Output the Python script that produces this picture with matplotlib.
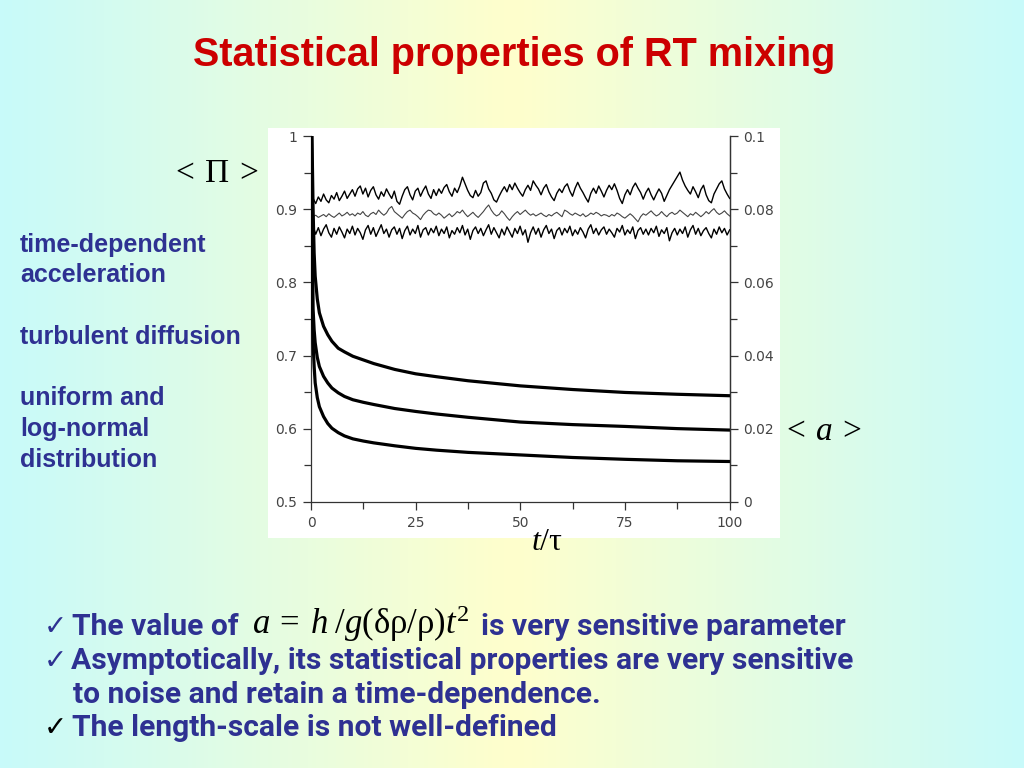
import numpy as np
import matplotlib
matplotlib.use("Agg")
import matplotlib.pyplot as plt
from matplotlib.patches import Rectangle
from matplotlib.colors import LinearSegmentedColormap

plt.rcParams['mathtext.fontset'] = 'custom'
plt.rcParams['mathtext.rm'] = 'Liberation Serif'
plt.rcParams['mathtext.it'] = 'Liberation Serif:italic'

# ---- data ----
# <Pi> traces (left axis), sampled evenly from t=0.5 to t=100
pi_top = [0.915,0.908,0.917,0.911,0.921,0.913,0.909,0.919,0.914,0.923,0.912,0.918,0.925,0.915,0.921,0.927,
          0.918,0.928,0.932,0.921,0.929,0.917,0.926,0.931,0.920,0.914,0.924,0.918,0.928,0.921,0.915,0.925,
          0.911,0.907,0.918,0.927,0.931,0.920,0.913,0.925,0.929,0.918,0.926,0.932,0.921,0.915,0.927,0.919,
          0.928,0.922,0.930,0.934,0.924,0.918,0.929,0.923,0.932,0.944,0.935,0.926,0.919,0.916,0.926,0.918,
          0.923,0.936,0.939,0.928,0.922,0.913,0.910,0.918,0.925,0.931,0.924,0.934,0.927,0.936,0.929,0.923,
          0.918,0.927,0.933,0.926,0.939,0.933,0.928,0.920,0.929,0.934,0.924,0.917,0.912,0.922,0.928,0.923,
          0.931,0.935,0.925,0.918,0.929,0.937,0.929,0.923,0.916,0.910,0.922,0.929,0.922,0.932,0.925,0.917,
          0.926,0.933,0.927,0.935,0.926,0.915,0.908,0.920,0.927,0.920,0.930,0.936,0.929,0.923,0.914,0.923,
          0.929,0.920,0.913,0.921,0.928,0.922,0.911,0.919,0.927,0.933,0.939,0.945,0.951,0.940,0.932,0.926,
          0.921,0.931,0.924,0.916,0.927,0.933,0.920,0.912,0.909,0.921,0.928,0.935,0.939,0.928,0.921,0.915]
pi_mid = [0.890,0.892,0.889,0.891,0.893,0.890,0.894,0.891,0.889,0.892,0.895,0.891,0.893,0.896,0.892,0.894,
          0.891,0.895,0.893,0.897,0.892,0.890,0.894,0.896,0.893,0.899,0.895,0.892,0.895,0.901,0.904,0.897,
          0.894,0.891,0.888,0.893,0.897,0.899,0.895,0.893,0.890,0.886,0.892,0.896,0.899,0.898,0.894,0.892,
          0.895,0.892,0.888,0.891,0.894,0.890,0.893,0.897,0.895,0.899,0.894,0.890,0.893,0.896,0.892,0.889,
          0.893,0.897,0.902,0.906,0.899,0.894,0.891,0.893,0.898,0.894,0.889,0.885,0.890,0.894,0.897,0.893,
          0.896,0.899,0.895,0.892,0.894,0.891,0.893,0.895,0.892,0.890,0.893,0.891,0.894,0.896,0.893,0.890,
          0.899,0.897,0.894,0.892,0.895,0.893,0.891,0.894,0.890,0.892,0.895,0.893,0.896,0.894,0.891,0.893,
          0.892,0.890,0.893,0.891,0.895,0.893,0.890,0.888,0.891,0.894,0.891,0.887,0.883,0.890,0.894,0.892,
          0.895,0.898,0.894,0.891,0.893,0.897,0.893,0.890,0.894,0.896,0.893,0.895,0.899,0.896,0.893,0.890,
          0.894,0.892,0.896,0.893,0.890,0.893,0.897,0.894,0.898,0.901,0.896,0.893,0.895,0.898,0.894,0.891]
pi_low = [0.877,0.866,0.875,0.864,0.873,0.879,0.868,0.862,0.874,0.866,0.876,0.869,0.861,0.873,0.867,0.877,
          0.865,0.874,0.868,0.859,0.872,0.878,0.866,0.875,0.863,0.871,0.879,0.867,0.873,0.862,0.872,0.876,
          0.866,0.874,0.860,0.871,0.877,0.865,0.873,0.867,0.878,0.862,0.872,0.875,0.865,0.874,0.868,0.877,
          0.864,0.873,0.867,0.876,0.861,0.871,0.866,0.875,0.868,0.878,0.865,0.873,0.859,0.871,0.876,0.867,
          0.874,0.864,0.872,0.879,0.866,0.875,0.868,0.861,0.873,0.865,0.876,0.869,0.862,0.874,0.867,0.877,
          0.865,0.872,0.855,0.868,0.876,0.866,0.874,0.862,0.872,0.878,0.867,0.873,0.860,0.871,0.875,0.865,
          0.874,0.868,0.877,0.864,0.872,0.866,0.875,0.869,0.861,0.873,0.879,0.867,0.874,0.865,0.872,0.876,
          0.866,0.873,0.868,0.862,0.874,0.869,0.878,0.865,0.872,0.867,0.876,0.860,0.871,0.875,0.866,0.873,
          0.865,0.874,0.868,0.877,0.863,0.872,0.867,0.875,0.857,0.868,0.874,0.865,0.873,0.867,0.876,0.862,
          0.872,0.878,0.866,0.874,0.864,0.871,0.875,0.867,0.861,0.873,0.866,0.876,0.868,0.874,0.865,0.872]
t_pi = np.linspace(0.5, 100, len(pi_top))

# <a> curves (right axis)
t_a = [0, 0.3, 0.5, 0.75, 1, 1.5, 2, 3, 4, 5, 6.5, 8, 10, 12.5, 15, 20, 25, 30, 37.5, 50, 62.5, 75, 87.5, 100]
a_top = [0.12, 0.095, 0.080, 0.068, 0.0617, 0.0555, 0.0517, 0.0480, 0.0457, 0.0439, 0.0420, 0.0410, 0.0398,
         0.0388, 0.0378, 0.0362, 0.0350, 0.0342, 0.0331, 0.0317, 0.0307, 0.0299, 0.0294, 0.0290]
a_mid = [0.12, 0.075, 0.0526, 0.047, 0.0435, 0.0395, 0.0370, 0.0343, 0.0325, 0.0311, 0.0298, 0.0288, 0.0279,
         0.0272, 0.0266, 0.0255, 0.0247, 0.0240, 0.0231, 0.0218, 0.0211, 0.0206, 0.0200, 0.0196]
a_low = [0.12, 0.055, 0.0435, 0.037, 0.0325, 0.0285, 0.0260, 0.0233, 0.0214, 0.0201, 0.0189, 0.0180, 0.0172,
         0.0166, 0.0161, 0.0153, 0.0146, 0.0141, 0.0135, 0.0128, 0.0121, 0.0116, 0.0112, 0.0110]

x_ticks = [0, 25, 50, 75, 100]
left_ticks = [0.5, 0.6, 0.7, 0.8, 0.9, 1.0]
left_labels = ['0.5', '0.6', '0.7', '0.8', '0.9', '1']
right_ticks = [0, 0.02, 0.04, 0.06, 0.08, 0.1]
right_labels = ['0', '0.02', '0.04', '0.06', '0.08', '0.1']

side_notes = [("time-dependent", 245), ("acceleration", 275), ("turbulent diffusion", 337),
              ("uniform and", 398), ("log-normal", 429), ("distribution", 460)]

W, H = 1024, 768
fig = plt.figure(figsize=(W / 100, H / 100), dpi=100)

# slide background
bg = fig.add_axes([0, 0, 1, 1])
bg.set_zorder(-2)
cmap = LinearSegmentedColormap.from_list('slide', ['#c8fafa', '#ffffcc', '#c8fafa'])
bg.imshow(np.linspace(0, 1, 256).reshape(1, -1), cmap=cmap, aspect='auto', extent=[0, 1, 0, 1])
bg.axis('off')

fig.add_artist(Rectangle((268 / W, 1 - 538 / H), 512 / W, 410 / H, transform=fig.transFigure,
                         facecolor='white', edgecolor='none', zorder=-1))

ax = fig.add_axes([311 / W, 1 - 501.7 / H, 418.7 / W, 365.4 / H])
ax.patch.set_alpha(0)
ax2 = ax.twinx()

ax.plot(t_pi, pi_top, color='black', lw=1.0)
ax.plot(t_pi, pi_mid, color='#444444', lw=0.8)
ax.plot(t_pi, pi_low, color='black', lw=1.0)
for a in (a_top, a_mid, a_low):
    ax2.plot(t_a, a, color='black', lw=2.3)

ax.set_xlim(0, 100)
ax.set_ylim(0.5, 1)
ax2.set_ylim(0, 0.1)

ax.set_xticks(x_ticks)
ax.set_xticks([12.5, 37.5, 62.5, 87.5], minor=True)
ax.set_yticks(left_ticks)
ax.set_yticklabels(left_labels)
ax.set_yticks([0.55, 0.65, 0.75, 0.85, 0.95], minor=True)
ax2.set_yticks(right_ticks)
ax2.set_yticklabels(right_labels)
ax2.set_yticks([0.01, 0.03, 0.05, 0.07, 0.09], minor=True)

for axis in (ax, ax2):
    for s in axis.spines.values():
        s.set_color('#333333')
        s.set_linewidth(0.9)
    axis.spines['top'].set_visible(False)
    axis.tick_params(which='major', length=6, width=0.9, color='#333333', labelcolor='#444444',
                     labelsize=10, pad=4)
    axis.tick_params(which='minor', length=5, width=0.9, color='#333333')
ax2.spines['left'].set_visible(False)
ax2.spines['bottom'].set_visible(False)

# texts
sans = ['Liberation Sans', 'DejaVu Sans']
bullet_font = ['Roboto', 'Liberation Sans']
navy = '#2e3192'
fig.text(514 / W, 1 - 55 / H, "Statistical properties of RT mixing", color='#cc0000',
         fontsize=28.5, fontweight='bold', family=sans, ha='center', va='center')

for txt, y in side_notes:
    fig.text(20 / W, 1 - y / H, txt, color=navy, fontsize=18, fontweight='bold',
             family=sans, ha='left', va='center')

fig.text(215 / W, 1 - 172 / H, r'$<\:\Pi\:>$', fontsize=24, ha='center', va='center')
fig.text(822 / W, 1 - 430 / H, r'$<\:a\:>$', fontsize=24, ha='center', va='center')
fig.text(547 / W, 1 - 541 / H, r'$t/\mathrm{τ}$', fontsize=23, ha='center', va='center')

bfs = 21.6
ck = ['DejaVu Sans']
fig.text(44 / W, 1 - 627 / H, "\u2713", color=navy, fontsize=20, family=ck, va='center')
fig.text(72 / W, 1 - 627 / H, "The value of", color=navy, fontsize=bfs, fontweight='bold',
         family=bullet_font, va='center')
fig.text(252 / W, 1 - 624 / H, r'$a\:=\:h\;/g(\mathrm{δρ/ρ})t^2$', fontsize=25, va='center')
fig.text(481 / W, 1 - 627 / H, "is very sensitive parameter", color=navy, fontsize=bfs,
         fontweight='bold', family=bullet_font, va='center')
fig.text(44 / W, 1 - 661 / H, "\u2713", color=navy, fontsize=20, family=ck, va='center')
fig.text(71 / W, 1 - 661 / H, "Asymptotically, its statistical properties are very sensitive",
         color=navy, fontsize=bfs, fontweight='bold', family=bullet_font, va='center')
fig.text(73 / W, 1 - 695 / H, "to noise and retain a time-dependence.", color=navy, fontsize=bfs,
         fontweight='bold', family=bullet_font, va='center')
fig.text(44 / W, 1 - 728 / H, "\u2713", color='black', fontsize=20, family=ck, va='center')
fig.text(72 / W, 1 - 728 / H, "The length-scale is not well-defined", color=navy, fontsize=bfs,
         fontweight='bold', family=bullet_font, va='center')

fig.savefig('out.png', dpi=100)
